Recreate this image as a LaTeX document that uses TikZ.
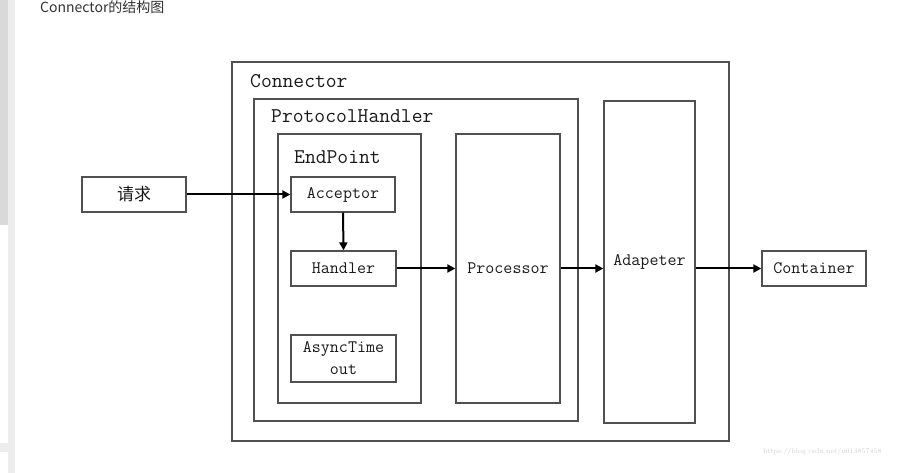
\documentclass[tikz,border=0pt]{standalone}
\usepackage{fontspec}
\usetikzlibrary{arrows.meta}
\newfontfamily\cjk{Noto Sans CJK SC}
\definecolor{boxline}{HTML}{505050}
\definecolor{txt}{HTML}{1a1a1a}
\tikzset{
  box/.style={draw=boxline, line width=1.3pt, inner sep=0pt, fill=white},
  boxlabel/.style={inner sep=0pt, text=txt, font=\fontsize{17.5}{20}\ttfamily},
  titlelabel/.style={inner sep=0pt, anchor=west, text=txt, font=\fontsize{21}{24}\ttfamily},
  conn/.style={draw=black, line width=2pt, -{Triangle[length=8pt,width=8pt]}},
}
\begin{document}
\begin{tikzpicture}[x=1pt,y=-1pt]
\useasboundingbox (0,0) rectangle (916,473);
\fill[white] (0,0) rectangle (916,473);
% screenshot side strip
\fill[gray!30] (0,0) rectangle (8,225);
\fill[black!7] (8,0) rectangle (15,473);
\fill[black!7] (0,443) rectangle (8,452);
% caption
\node[anchor=base west, inner sep=0pt, text=black!80, font=\cjk\fontsize{14}{16}\selectfont] (cap) at (40,13) {Connector的结构图};
% containers
\node[box, minimum width=497pt, minimum height=379pt] (connector) at (480.5,251.5) {};
\node[box, minimum width=324pt, minimum height=322pt] (ph) at (416,260) {};
\node[box, minimum width=143pt, minimum height=269pt] (ep) at (349.5,268.5) {};
\node[box, minimum width=104pt, minimum height=269pt, boxlabel] (proc) at (508,268.5) {Processor};
\node[box, minimum width=91pt, minimum height=322pt, boxlabel] (adap) at (649.5,262) {Adapeter};
% titles
\node[titlelabel] (tconn) at (250,81) {Connector};
\node[titlelabel] (tph) at (271,116) {ProtocolHandler};
\node[titlelabel] (tep) at (294,157) {EndPoint};
% inner boxes
\node[box, minimum width=104pt, minimum height=35pt, boxlabel, font=\cjk\fontsize{17}{20}\selectfont] (req) at (134,194.5) {请求};
\node[box, minimum width=104pt, minimum height=35pt, boxlabel] (acc) at (343,194.5) {Acceptor};
\node[box, minimum width=105pt, minimum height=35pt, boxlabel] (hand) at (343.5,268.5) {Handler};
\node[box, minimum width=105pt, minimum height=47pt, boxlabel, align=center] (async) at (343.5,358.5) {AsyncTime\\[2pt]out};
\node[box, minimum width=104pt, minimum height=35pt, boxlabel] (cont) at (814,268.5) {Container};
% connectors
\draw[conn] (req.east) -- (acc.west);
\draw[conn] (acc.south) -- (hand.north);
\draw[conn] (hand.east) -- (proc.west);
\draw[conn] (proc.east) -- (proc.east -| adap.west);
\draw[conn] (adap.east |- cont.west) -- (cont.west);
% watermark
\node[anchor=west, inner sep=0pt, text=black!18, font=\fontsize{7}{8}\selectfont] (wm) at (763,452) {https://blog.csdn.net/u013857458};
\end{tikzpicture}
\end{document}
